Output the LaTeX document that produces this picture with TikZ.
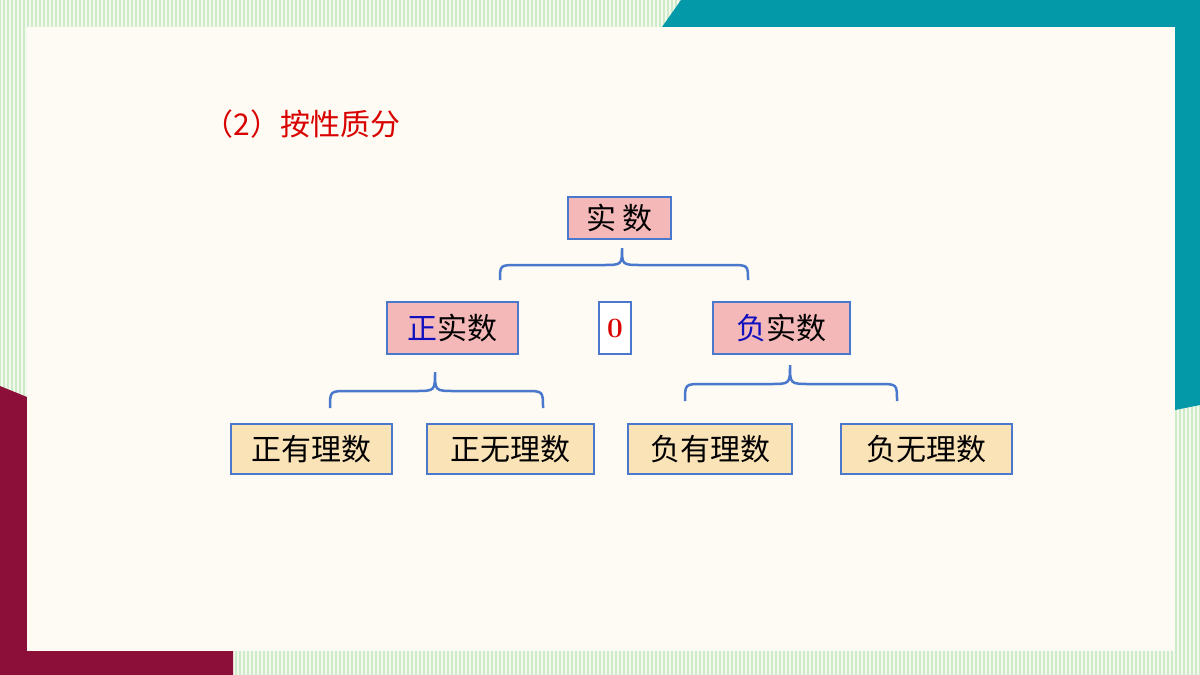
\documentclass[tikz,border=0pt]{standalone}
\usepackage{fontspec}
\newfontfamily\cjk{Noto Sans CJK SC}
\definecolor{cream}{HTML}{FDFBF3}
\definecolor{teal}{HTML}{0399A8}
\definecolor{crim}{HTML}{8C0F3A}
\definecolor{bl}{HTML}{4A78CC}
\definecolor{pinkf}{HTML}{F4B8B8}
\definecolor{tanf}{HTML}{FBE3B8}
\definecolor{stripe}{HTML}{CDEBC8}
\definecolor{navy}{HTML}{1010C0}
\tikzset{
 pbox/.style={draw=bl,line width=2.5pt,fill=pinkf,inner sep=0pt,font=\cjk\fontsize{30}{30}\selectfont},
 tbox/.style={draw=bl,line width=2.5pt,fill=tanf,inner sep=0pt,font=\cjk\fontsize{30}{30}\selectfont},
 brace/.style={draw=bl,line width=2.5pt}
}
\begin{document}
\begin{tikzpicture}[x=1pt,y=-1pt]
\useasboundingbox (0,0) rectangle (1200,675);
\fill[white!50!stripe!40!cream] (0,0) rectangle (1200,675);
\foreach \i in {0,4,...,1200} \draw[stripe,line width=1.5pt] (\i,0) -- (\i,675);
\fill[teal] (681,0) -- (1200,0) -- (1200,405) -- (1175,410) -- (1175,27) -- (662,27) -- cycle;
\fill[crim] (0,386) -- (27,397) -- (27,651) -- (233,651) -- (233,675) -- (0,675) -- cycle;
\fill[cream] (27,27) rectangle (1175,651);
\node[anchor=west,text=red!85!black,font=\cjk\fontsize{30}{30}\selectfont] (title) at (200,124) {（2）按性质分};
\node[pbox,minimum width=103pt,minimum height=42pt] (real) at (619.5,218) {实 数};
\node[pbox,minimum width=131pt,minimum height=52pt] (pos) at (452.5,328) {\textcolor{navy}{正}实数};
\node[draw=bl,line width=2.5pt,fill=white,minimum width=32pt,minimum height=52pt,inner sep=0pt,text=red!85!black,font=\bfseries\fontsize{28}{28}\selectfont] (zero) at (615,328) {0};
\node[pbox,minimum width=137pt,minimum height=52pt] (neg) at (781.5,328) {\textcolor{navy}{负}实数};
\node[tbox,minimum width=161pt,minimum height=50pt] (pr) at (311.5,449) {正有理数};
\node[tbox,minimum width=167pt,minimum height=50pt] (pi) at (510.5,449) {正无理数};
\node[tbox,minimum width=164pt,minimum height=50pt] (nr) at (710,449) {负有理数};
\node[tbox,minimum width=171pt,minimum height=50pt] (ni) at (926.5,449) {负无理数};
\coordinate (b1) at (622,248);
\draw[brace] (500,280) .. controls (500,265) .. (518,265) -- (602,265) .. controls (622,265) .. (b1) .. controls (622,265) .. (642,265) -- (730,265) .. controls (748,265) .. (748,280);
\coordinate (b2) at (435,372);
\draw[brace] (330,408) .. controls (330,391) .. (348,391) -- (415,391) .. controls (435,391) .. (b2) .. controls (435,391) .. (455,391) -- (525,391) .. controls (543,391) .. (543,408);
\coordinate (b3) at (790,365);
\draw[brace] (685,401) .. controls (685,384) .. (703,384) -- (770,384) .. controls (790,384) .. (b3) .. controls (790,384) .. (810,384) -- (879,384) .. controls (897,384) .. (897,401);
\end{tikzpicture}
\end{document}
